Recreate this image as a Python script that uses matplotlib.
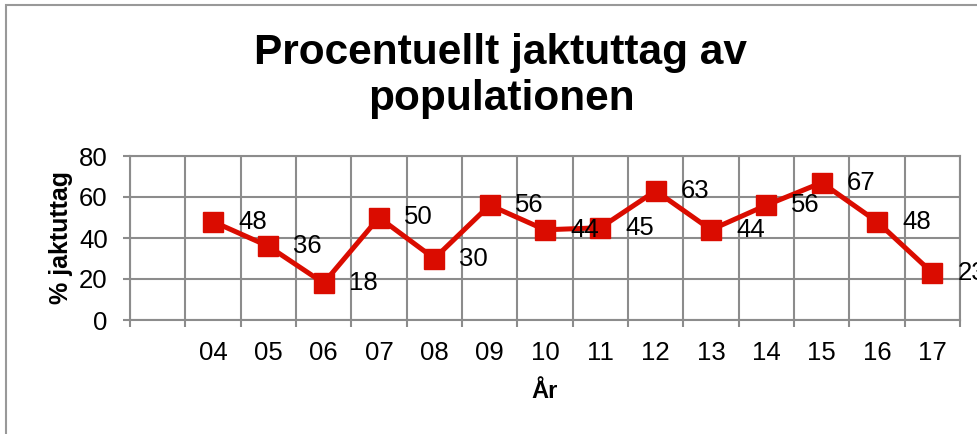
import numpy as np
import matplotlib.pyplot as plt
from matplotlib.patches import Rectangle

plt.rcParams['font.family'] = ['Liberation Sans', 'DejaVu Sans']

# Years (first category is empty in the original chart)
years = ["", "04", "05", "06", "07", "08", "09", "10", "11", "12", "13", "14", "15", "16", "17"]
uttag = [48, 36, 18, 50, 30, 56, 44, 45, 63, 44, 56, 67, 48, 23]

red = "#DA0C00"
grid_col = "#8C8C8C"

fig = plt.figure(figsize=(9.77, 4.34), dpi=100)
ax = fig.add_axes([130 / 977, 1 - 320 / 434, 830 / 977, 164 / 434])

x = np.arange(1, len(years))
ax.plot(x, uttag, color=red, lw=3.6, marker="s", markersize=14.5, zorder=3, clip_on=False)

# data labels to the right of each point
for xi, v in zip(x, uttag):
    ax.annotate(str(v), (xi, v), xytext=(18, 0), textcoords="offset points",
                ha="left", va="center", fontsize=18.5, zorder=4, annotation_clip=False)

ax.set_xlim(-0.5, len(years) - 0.5)
ax.set_ylim(0, 80)
ax.set_yticks(np.arange(0, 81, 20))
ax.set_xticks(np.arange(len(years)))
ax.set_xticklabels(years)
ax.set_xticks(np.arange(len(years) + 1) - 0.5, minor=True)

ax.tick_params(axis="x", which="major", length=0, pad=15, labelsize=18.5)
ax.tick_params(axis="x", which="minor", length=5, width=1.5, color=grid_col)
ax.tick_params(axis="y", length=5, width=1.5, color=grid_col, pad=11, labelsize=18.5)

ax.grid(True, which="minor", axis="x", color=grid_col, lw=1.5)
ax.grid(True, which="major", axis="y", color=grid_col, lw=1.5)
ax.set_axisbelow(True)
for s in ax.spines.values():
    s.set_color(grid_col)
    s.set_linewidth(1.5)

ax.set_xlabel("År", fontsize=17, fontweight="bold", labelpad=11)
ax.set_ylabel("% jaktuttag", fontsize=18, fontweight="bold", labelpad=4)

fig.text(501 / 977, 1 - 76 / 434, "Procentuellt jaktuttag av\npopulationen",
         ha="center", va="center", fontsize=30.5, fontweight="bold", linespacing=1.2)

# chart frame
fig.patches.append(Rectangle((6 / 977, -0.1), 1.2, 1.1 - 5 / 434, transform=fig.transFigure,
                             fill=False, edgecolor="#999999", lw=1.5))

fig.savefig("out.png", dpi=100)
